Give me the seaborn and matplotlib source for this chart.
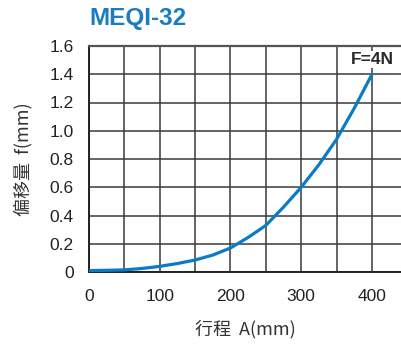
import numpy as np
import pandas as pd
import matplotlib
matplotlib.use('Agg')
import matplotlib.pyplot as plt
import seaborn as sns

# stroke A (mm) vs deflection f (mm)
stroke = [0, 25, 50, 75, 100, 125, 150, 175, 200, 225, 250, 275, 300, 325, 350, 375, 400]
deflection = [0.01, 0.012, 0.015, 0.025, 0.04, 0.06, 0.085, 0.12, 0.17, 0.245, 0.33, 0.46, 0.60, 0.76, 0.94, 1.16, 1.40]

x_ticks = [0, 100, 200, 300, 400]
y_ticks = [0, 0.2, 0.4, 0.6, 0.8, 1.0, 1.2, 1.4, 1.6]
y_labels = ['0', '0.2', '0.4', '0.6', '0.8', '1.0', '1.2', '1.4', '1.6']

df = pd.DataFrame({'stroke': stroke, 'deflection': deflection})

sns.set_style('white')
plt.rcParams['font.family'] = ['Liberation Sans', 'Noto Sans CJK SC', 'DejaVu Sans']

fig = plt.figure(figsize=(4.01, 3.44), dpi=100)
ax = fig.add_axes([89 / 401, 1 - 272 / 344, 1 - 89 / 401, (272 - 46) / 344])

sns.lineplot(data=df, x='stroke', y='deflection', ax=ax, color='#0a7bc4', linewidth=2.3, zorder=3)

ax.set_xlim(0, 441)
ax.set_ylim(0, 1.6)
ax.set_xticks(x_ticks)
ax.set_xticks(np.arange(50, 441, 100), minor=True)
ax.set_yticks(y_ticks)
ax.set_yticklabels(y_labels)
ax.grid(True, which='both', color='#3a3a3a', linewidth=1.1)
ax.tick_params(axis='both', which='both', length=0, labelsize=12.5, colors='#222222')
ax.tick_params(axis='x', pad=12)
ax.tick_params(axis='y', pad=11)

for side in ['left', 'bottom']:
    ax.spines[side].set_color('#222222')
    ax.spines[side].set_linewidth(1.4)
ax.spines['top'].set_color('#555555')
ax.spines['top'].set_linewidth(1.6)
ax.spines['right'].set_visible(False)

ax.set_xlabel('行程  A(mm)', fontsize=13, color='#333333',
              family=['Noto Sans CJK SC', 'DejaVu Sans'], labelpad=12)
ax.set_ylabel('偏移量  f(mm)', fontsize=13, color='#333333',
              family=['Noto Sans CJK SC', 'DejaVu Sans'], labelpad=12)

ax.text(400, 1.505, 'F=4N', ha='center', va='center', fontsize=12.5,
        fontweight='bold', color='#2a2a2a', zorder=4,
        bbox=dict(facecolor='white', edgecolor='none', pad=1))

fig.text(89 / 401, 1 - 18 / 344, 'MEQI-32', ha='left', va='center', fontsize=17.5,
         fontweight='bold', color='#1a7cc1')

fig.savefig('out.png', dpi=100)
